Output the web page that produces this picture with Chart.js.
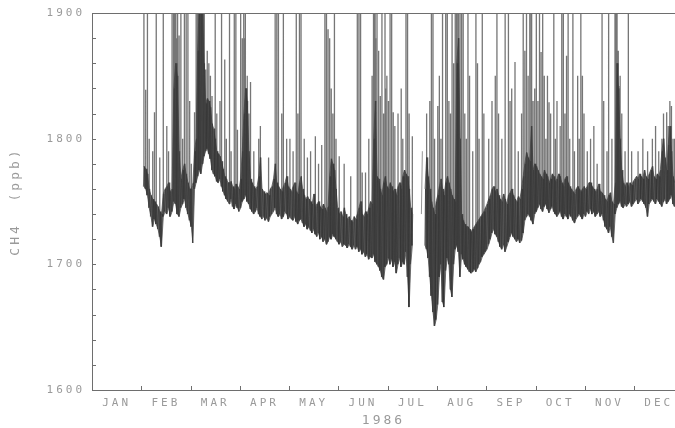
<!DOCTYPE html>
<html>
<head>
<meta charset="utf-8">
<script src="https://cdn.jsdelivr.net/npm/chart.js@4.4.1/dist/chart.umd.min.js"></script>
<style>
  html, body { margin: 0; padding: 0; background: #fff; }
  canvas { display: block; }
</style>
</head>
<body>
<canvas id="c" width="675" height="428"></canvas>
<script>
// Calendar and axis labelling
const monthNames = ['JAN', 'FEB', 'MAR', 'APR', 'MAY', 'JUN', 'JUL', 'AUG', 'SEP', 'OCT', 'NOV', 'DEC'];
const monthLengths = [31, 28, 31, 30, 31, 30, 31, 31, 30, 31, 30, 31];
const yLabelValues = [1600, 1700, 1800, 1900];
const yearLabel = '1986';

// Daily [low, high] CH4 mixing ratio (ppb); null = no measurements that day
const jan = [];
const feb = [null,
  [1762,1778],[1760,1776],[1755,1772],[1745,1760],[1738,1755],[1730,1752],[1736,1750],[1732,1748],[1728,1746],[1722,1742],
  [1714,1740],[1738,1756],[1742,1760],[1740,1762],[1745,1765],[1738,1758],[1742,1760],[1750,1840],[1748,1860],[1740,1850],
  [1738,1790],[1745,1768],[1748,1775],[1752,1780],[1745,1772],[1740,1765],[1735,1760]];
const mar = [
  [1730,1760],[1717,1765],[1760,1790],[1765,1800],[1770,1870],[1775,1910],[1772,1910],[1780,1900],[1786,1860],[1790,1828],
  [1792,1832],[1788,1830],[1784,1825],[1775,1812],[1772,1808],[1770,1800],[1766,1790],[1765,1788],[1768,1786],[1762,1782],
  [1758,1776],[1755,1770],[1752,1768],[1750,1765],[1748,1765],[1752,1766],[1746,1762],[1744,1760],[1748,1764],[1745,1762],
  [1742,1760]];
const apr = [
  [1745,1768],[1750,1790],[1752,1820],[1755,1840],[1750,1830],[1748,1790],[1744,1768],[1742,1765],[1740,1762],[1742,1760],
  [1745,1762],[1740,1770],[1738,1785],[1736,1760],[1738,1758],[1735,1756],[1737,1757],[1734,1755],[1738,1760],[1740,1762],
  [1742,1768],[1745,1780],[1740,1765],[1738,1762],[1740,1760],[1736,1758],[1738,1762],[1742,1765],[1740,1770],[1736,1762]];
const may = [
  [1738,1760],[1736,1758],[1735,1762],[1738,1765],[1734,1758],[1732,1756],[1735,1765],[1736,1770],[1733,1760],[1730,1755],
  [1732,1752],[1728,1754],[1730,1752],[1727,1750],[1725,1748],[1728,1756],[1724,1746],[1722,1748],[1725,1750],[1720,1746],
  [1722,1744],[1718,1748],[1720,1745],[1716,1742],[1718,1746],[1722,1770],[1720,1784],[1724,1780],[1722,1775],[1720,1760],
  [1718,1745]];
const jun = [
  [1716,1740],[1718,1742],[1714,1738],[1716,1745],[1715,1740],[1713,1736],[1716,1738],[1714,1735],[1712,1734],[1715,1738],
  [1712,1736],[1714,1740],[1710,1745],[1712,1750],[1708,1740],[1710,1738],[1706,1742],[1708,1740],[1704,1745],[1706,1750],
  [1705,1748],[1708,1800],[1702,1830],[1700,1770],[1698,1768],[1695,1760],[1690,1755],[1688,1765],[1698,1770],[1700,1762]];
const jul = [
  [1705,1760],[1700,1765],[1704,1762],[1698,1758],[1702,1760],[1693,1755],[1700,1762],[1705,1765],[1698,1760],[1702,1770],
  [1700,1775],[1710,1772],[1690,1770],[1666,1760],[1700,1745],[1715,1740],null,null,null,null,
  null,[1740,1790],null,[1715,1760],[1712,1785],[1705,1770],[1690,1760],[1675,1750],[1662,1745],[1651,1740],
  [1656,1750]];
const aug = [
  [1668,1755],[1690,1762],[1700,1768],[1670,1760],[1666,1755],[1695,1765],[1705,1770],[1700,1765],[1680,1760],[1674,1755],
  [1700,1752],[1712,1750],[1715,1860],[1710,1880],[1690,1800],[1708,1740],[1704,1735],[1700,1732],[1698,1730],[1696,1730],
  [1694,1728],[1693,1726],[1694,1728],[1696,1730],[1694,1732],[1697,1734],[1700,1736],[1702,1738],[1706,1740],[1708,1742],
  [1710,1745]];
const sep = [
  [1712,1748],[1716,1752],[1720,1755],[1725,1760],[1728,1762],[1724,1758],[1722,1760],[1718,1755],[1714,1752],[1712,1750],
  [1716,1756],[1710,1752],[1714,1748],[1718,1755],[1722,1757],[1725,1760],[1722,1755],[1720,1752],[1718,1750],[1720,1754],
  [1717,1752],[1719,1760],[1725,1770],[1735,1780],[1738,1789],[1740,1785],[1738,1782],[1735,1810],[1732,1775],[1740,1780]];
const oct = [
  [1742,1778],[1745,1775],[1748,1772],[1744,1770],[1742,1768],[1746,1775],[1748,1772],[1744,1770],[1741,1765],[1744,1768],
  [1746,1772],[1742,1770],[1740,1766],[1738,1768],[1740,1772],[1742,1770],[1738,1765],[1736,1762],[1740,1768],[1738,1770],
  [1736,1765],[1740,1762],[1738,1760],[1735,1758],[1733,1756],[1736,1760],[1738,1762],[1740,1760],[1738,1758],[1736,1760],
  [1740,1762]];
const nov = [
  [1738,1760],[1742,1762],[1740,1765],[1744,1765],[1740,1762],[1742,1760],[1738,1758],[1740,1760],[1742,1764],[1738,1758],
  [1740,1757],[1735,1755],[1730,1752],[1728,1750],[1725,1755],[1730,1757],[1722,1750],[1717,1748],[1740,1765],[1745,1860],
  [1748,1840],[1750,1800],[1746,1775],[1745,1765],[1748,1762],[1746,1765],[1748,1762],[1750,1765],[1746,1763],[1748,1766]];
const dec = [
  [1750,1768],[1752,1770],[1748,1768],[1750,1772],[1752,1770],[1750,1768],[1748,1775],[1745,1770],[1738,1768],[1748,1772],
  [1750,1775],[1752,1778],[1750,1770],[1748,1768],[1752,1772],[1750,1770],[1748,1775],[1746,1790],[1750,1800],[1752,1785],
  [1748,1775],[1750,1795],[1752,1810],[1755,1790],[1748,1770],[1746,1765]];

// Short pollution events: [month, day, peak ppb]; peaks above 1900 run off the top of the frame
const spikes = [
  [2,2,1950],[2,3,1839],[2,4,1950],[2,5,1800],[2,7,1790],[2,8,1821],[2,9,1950],[2,11,1785],[2,13,1950],[2,15,1810],
  [2,16,1790],[2,18,1950],[2,19,1950],[2,19,1950],[2,20,1950],[2,20,1880],[2,21,1950],[2,21,1950],[2,22,1882],[2,23,1950],
  [2,24,1800],[2,25,1950],[2,26,1950],[2,27,1950],[2,28,1830],
  [3,1,1780],[3,3,1821],[3,4,1950],[3,5,1950],[3,5,1950],[3,6,1950],[3,6,1950],[3,7,1950],[3,7,1950],[3,8,1950],
  [3,8,1950],[3,9,1950],[3,9,1950],[3,10,1855],[3,11,1870],[3,12,1860],[3,13,1850],[3,14,1834],[3,16,1950],[3,17,1820],
  [3,19,1830],[3,20,1950],[3,22,1863],[3,23,1800],[3,25,1950],[3,26,1790],[3,28,1950],[3,29,1950],[3,30,1807],
  [4,1,1950],[4,2,1880],[4,3,1950],[4,3,1880],[4,4,1950],[4,4,1840],[4,5,1850],[4,6,1820],[4,7,1845],[4,9,1790],
  [4,12,1800],[4,13,1810],[4,18,1785],[4,22,1950],[4,23,1950],[4,24,1950],[4,26,1820],[4,27,1950],[4,29,1800],
  [5,1,1800],[5,3,1790],[5,5,1950],[5,6,1820],[5,7,1950],[5,8,1950],[5,10,1800],[5,12,1785],[5,14,1790],[5,17,1802],
  [5,19,1780],[5,21,1795],[5,23,1950],[5,24,1950],[5,25,1887],[5,26,1880],[5,27,1840],[5,28,1820],[5,29,1950],[5,30,1800],
  [6,1,1786],[6,4,1780],[6,8,1770],[6,12,1950],[6,13,1950],[6,14,1950],[6,15,1773],[6,17,1773],[6,19,1800],[6,21,1850],
  [6,22,1950],[6,22,1950],[6,23,1950],[6,23,1880],[6,24,1950],[6,25,1870],[6,26,1834],[6,27,1950],[6,28,1820],[6,29,1950],
  [6,29,1840],[6,30,1850],
  [7,1,1830],[7,2,1950],[7,3,1950],[7,4,1821],[7,5,1810],[7,7,1820],[7,9,1840],[7,10,1800],[7,12,1950],[7,13,1950],
  [7,14,1820],[7,16,1802],[7,25,1820],[7,27,1830],[7,28,1950],[7,29,1950],[7,30,1800],
  [8,1,1826],[8,2,1850],[8,3,1800],[8,4,1950],[8,6,1950],[8,7,1950],[8,8,1830],[8,9,1820],[8,10,1950],[8,11,1860],
  [8,12,1950],[8,13,1950],[8,13,1950],[8,14,1950],[8,15,1950],[8,16,1950],[8,17,1950],[8,18,1820],[8,19,1800],[8,20,1950],
  [8,21,1850],[8,23,1790],[8,25,1950],[8,26,1860],[8,27,1800],[8,29,1950],[8,30,1820],
  [9,2,1800],[9,4,1830],[9,6,1850],[9,7,1950],[9,8,1820],[9,10,1800],[9,12,1950],[9,14,1950],[9,15,1830],[9,16,1840],
  [9,18,1861],[9,20,1790],[9,22,1820],[9,23,1950],[9,24,1870],[9,25,1950],[9,26,1850],[9,27,1950],[9,28,1950],[9,28,1950],
  [9,29,1830],[9,30,1840],
  [10,1,1950],[10,2,1830],[10,3,1950],[10,4,1869],[10,5,1950],[10,6,1850],[10,7,1800],[10,8,1850],[10,9,1829],[10,10,1820],
  [10,12,1950],[10,13,1800],[10,14,1830],[10,16,1810],[10,17,1950],[10,18,1950],[10,19,1820],[10,20,1866],[10,21,1950],[10,22,1800],
  [10,24,1950],[10,25,1790],[10,27,1850],[10,28,1800],[10,29,1950],[10,30,1850],[10,31,1820],
  [11,2,1790],[11,4,1800],[11,6,1810],[11,8,1780],[11,11,1950],[11,12,1830],[11,14,1790],[11,15,1950],[11,17,1800],[11,19,1950],
  [11,19,1950],[11,20,1950],[11,20,1950],[11,21,1870],[11,21,1842],[11,22,1850],[11,23,1820],[11,25,1790],[11,27,1950],[11,29,1790],
  [12,3,1790],[12,6,1800],[12,9,1790],[12,12,1800],[12,14,1810],[12,16,1790],[12,18,1800],[12,19,1820],[12,21,1821],[12,22,1810],
  [12,23,1830],[12,24,1826],[12,25,1800],[12,26,1800]
];

// x is measured in months from 1 January, each month one unit wide
const months = [jan, feb, mar, apr, may, jun, jul, aug, sep, oct, nov, dec];
const bandLow = [], bandHigh = [], texture = [], eventLines = [];
months.forEach((days, m) => {
  days.forEach((d, i) => {
    const at = t => m + (i + t) / monthLengths[m];
    if (!d) {
      bandLow.push({ x: at(0.5), y: null });
      bandHigh.push({ x: at(0.5), y: null });
      texture.push({ x: at(0.5), y: null });
      return;
    }
    const [lo, hi] = d;
    bandLow.push({ x: at(0.5), y: lo });
    bandHigh.push({ x: at(0.5), y: hi });
    texture.push({ x: at(0.2), y: lo }, { x: at(0.8), y: hi });
    const events = spikes.filter(s => s[0] === m + 1 && s[1] === i + 1);
    events.forEach((s, k) => {
      const x = at(0.1 + 0.8 * (k + 1) / (events.length + 1));
      eventLines.push({ x, y: lo }, { x, y: s[2] }, { x, y: null });
    });
  });
});

const TEXT = '#9a9a9a';
const AXIS = '#6e6e6e';
const FONT = "'DejaVu Sans Mono', 'Liberation Mono', monospace";

// Plotter-style lettering and inward tick marks, plus the top frame line
const plotterFrame = {
  id: 'plotterFrame',
  beforeUpdate(chart) { chart.ctx.letterSpacing = '3px'; },
  beforeDraw(chart) { chart.ctx.letterSpacing = '3px'; },
  afterDraw(chart) {
    const { ctx, chartArea: a, scales: { x, y } } = chart;
    ctx.save();
    ctx.strokeStyle = AXIS;
    ctx.lineWidth = 1;
    ctx.beginPath();
    ctx.moveTo(a.left, Math.round(a.top) + 0.5);
    ctx.lineTo(a.right, Math.round(a.top) + 0.5);
    for (let m = 1; m < monthNames.length; m++) {
      const px = Math.round(x.getPixelForValue(m)) + 0.5;
      ctx.moveTo(px, a.bottom);
      ctx.lineTo(px, a.bottom - 4);
    }
    y.ticks.forEach(t => {
      const py = Math.round(y.getPixelForValue(t.value)) + 0.5;
      ctx.moveTo(a.left, py);
      ctx.lineTo(a.left + 4, py);
    });
    ctx.stroke();
    ctx.restore();
  }
};

const lineBase = { pointRadius: 0, tension: 0, spanGaps: false };

new Chart(document.getElementById('c'), {
  type: 'line',
  data: {
    datasets: [
      { ...lineBase, data: eventLines, order: 0, borderColor: 'rgba(60,60,60,0.7)', borderWidth: 1.3 },
      { ...lineBase, data: texture, order: 1, borderColor: 'rgba(45,45,45,0.5)', borderWidth: 1 },
      { ...lineBase, data: bandHigh, order: 2, borderColor: 'rgba(85,85,85,0.8)', borderWidth: 1,
        fill: '+1', backgroundColor: 'rgba(92,92,92,0.9)' },
      { ...lineBase, data: bandLow, order: 3, borderColor: 'rgba(85,85,85,0.8)', borderWidth: 1 }
    ]
  },
  options: {
    responsive: false,
    animation: false,
    devicePixelRatio: 1,
    events: [],
    layout: { padding: { top: 13, left: 0, right: 0, bottom: 0 } },
    plugins: { legend: { display: false }, tooltip: { enabled: false } },
    scales: {
      x: {
        type: 'linear',
        min: 0,
        max: 11.83,
        grid: { display: false, drawTicks: false },
        border: { display: true, color: AXIS, width: 1 },
        afterBuildTicks: s => { s.ticks = monthNames.map((n, i) => ({ value: i + 0.5 })); },
        afterFit: s => { s.height = 38; s.paddingLeft = 0; s.paddingRight = 0; },
        ticks: {
          autoSkip: false,
          maxRotation: 0,
          padding: 7,
          color: TEXT,
          font: { family: FONT, size: 11 },
          callback: v => monthNames[Math.floor(v)]
        },
        title: {
          display: true,
          text: yearLabel,
          color: TEXT,
          font: { family: FONT, size: 13, lineHeight: 1 },
          padding: { top: 0, bottom: 1 }
        }
      },
      y: {
        min: 1600,
        max: 1900,
        grid: { display: false, drawTicks: false },
        border: { display: true, color: AXIS, width: 1 },
        afterFit: s => { s.width = 92; s.paddingTop = 0; s.paddingBottom = 0; },
        ticks: {
          stepSize: 20,
          autoSkip: false,
          padding: 7,
          color: TEXT,
          font: { family: FONT, size: 11 },
          callback: v => yLabelValues.includes(v) ? String(v) : ''
        },
        title: {
          display: true,
          text: 'CH4  (ppb)',
          color: TEXT,
          font: { family: FONT, size: 13, lineHeight: 1 },
          padding: { top: 9, bottom: 0 }
        }
      }
    }
  },
  plugins: [plotterFrame]
});
</script>
</body>
</html>
